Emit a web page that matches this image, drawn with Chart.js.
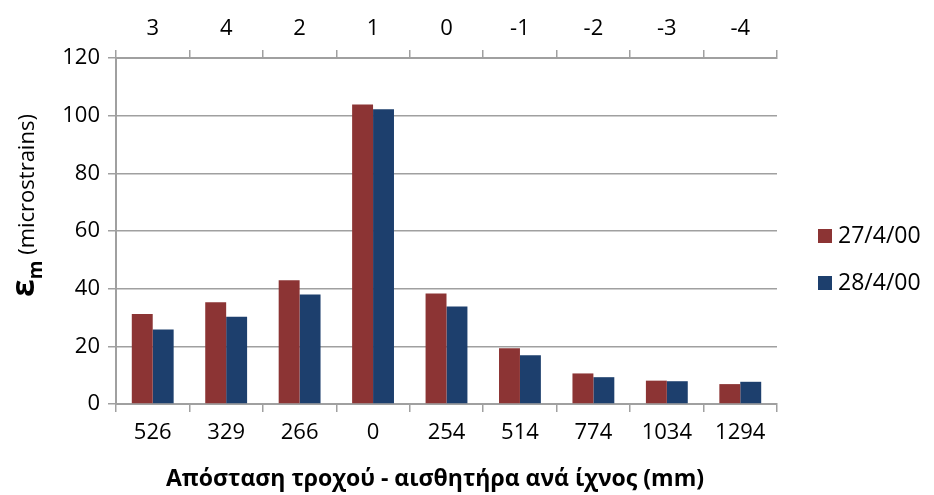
<!DOCTYPE html>
<html>
<head>
<meta charset="utf-8">
<script src="https://cdn.jsdelivr.net/npm/chart.js@4/dist/chart.umd.min.js"></script>
<style>
  html, body { margin: 0; padding: 0; background: #fff; }
  #wrap { width: 934px; height: 495px; }
</style>
</head>
<body>
<div id="wrap"><canvas id="c" width="934" height="495"></canvas></div>
<script>
const categories = ['526', '329', '266', '0', '254', '514', '774', '1034', '1294'];
const topLabels = ['3', '4', '2', '1', '0', '-1', '-2', '-3', '-4'];
const seriesNames = ['27/4/00', '28/4/00'];
const series1 = [31.2, 35.3, 42.9, 103.9, 38.3, 19.3, 10.6, 8.1, 6.9];
const series2 = [25.8, 30.3, 38.0, 102.2, 33.8, 16.9, 9.3, 7.9, 7.7];
const yTicks = { min: 0, max: 120, step: 20 };
const xTitle = 'Απόσταση τροχού - αισθητήρα ανά ίχνος (mm)';

const FONT = "'Open Sans', 'Noto Sans', sans-serif";
const GRID = '#a0a0a0';
const colors = ['#8C3434', '#1D3F6D'];

const titlesPlugin = {
  id: 'titles',
  afterDraw(chart) {
    const ctx = chart.ctx;
    ctx.save();
    // x title
    ctx.fillStyle = '#000';
    ctx.font = "bold 23px " + FONT;
    ctx.textAlign = 'center';
    ctx.textBaseline = 'middle';
    ctx.fillText(xTitle, 435, 479);
    // y title
    ctx.translate(34, 297);
    ctx.rotate(-Math.PI / 2);
    ctx.textBaseline = 'alphabetic';
    ctx.textAlign = 'left';
    ctx.font = "bold 32px " + FONT;
    ctx.fillText('ε', 0, 0);
    let x = ctx.measureText('ε').width;
    ctx.font = "bold 19px " + FONT;
    ctx.fillText('m', x, 8);
    x += ctx.measureText('m').width;
    ctx.font = "22px " + FONT;
    ctx.fillText(' (microstrains)', x, 0);
    ctx.restore();
  }
};

const legendPlugin = {
  id: 'customLegend',
  afterDraw(chart) {
    const ctx = chart.ctx;
    ctx.save();
    const ys = [236, 283];
    chart.data.datasets.forEach((ds, i) => {
      ctx.fillStyle = ds.backgroundColor;
      ctx.fillRect(818, ys[i] - 7, 14, 14);
      ctx.fillStyle = '#000';
      ctx.font = "23px " + FONT;
      ctx.textBaseline = 'middle';
      ctx.textAlign = 'left';
      ctx.fillText(ds.label, 838, ys[i]);
    });
    ctx.restore();
  }
};

new Chart(document.getElementById('c'), {
  type: 'bar',
  data: {
    labels: categories,
    datasets: [
      { label: seriesNames[0], data: series1, backgroundColor: colors[0], borderWidth: 0 },
      { label: seriesNames[1], data: series2, backgroundColor: colors[1], borderWidth: 0 }
    ]
  },
  options: {
    responsive: false,
    animation: false,
    layout: { padding: { left: 0, right: 157, top: 0, bottom: 0 } },
    datasets: { bar: { categoryPercentage: 0.57, barPercentage: 1.0 } },
    plugins: { legend: { display: false }, tooltip: { enabled: false } },
    scales: {
      x: {
        position: 'bottom',
        offset: true,
        grid: { display: true, drawOnChartArea: false, offset: true, tickLength: 8, color: GRID, lineWidth: 1.5 },
        border: { display: true, color: GRID, width: 2 },
        ticks: { color: '#000', font: { family: FONT, size: 22 }, padding: 8, maxRotation: 0 },
        afterFit(scale) { scale.height = 91; }
      },
      x2: {
        type: 'category',
        position: 'top',
        labels: topLabels,
        offset: true,
        grid: { display: true, drawOnChartArea: false, offset: true, tickLength: 8, color: GRID, lineWidth: 1.5 },
        border: { display: true, color: GRID, width: 2 },
        ticks: { color: '#000', font: { family: FONT, size: 22 }, padding: 8, maxRotation: 0 },
        afterFit(scale) { scale.height = 58; }
      },
      y: {
        min: yTicks.min,
        max: yTicks.max,
        ticks: { stepSize: yTicks.step, color: '#000', font: { family: FONT, size: 22 }, padding: 8 },
        grid: { color: GRID, lineWidth: 1.5, tickLength: 8 },
        border: { display: true, color: GRID, width: 2 },
        afterFit(scale) { scale.width = 116; }
      }
    }
  },
  plugins: [titlesPlugin, legendPlugin]
});
</script>
</body>
</html>
